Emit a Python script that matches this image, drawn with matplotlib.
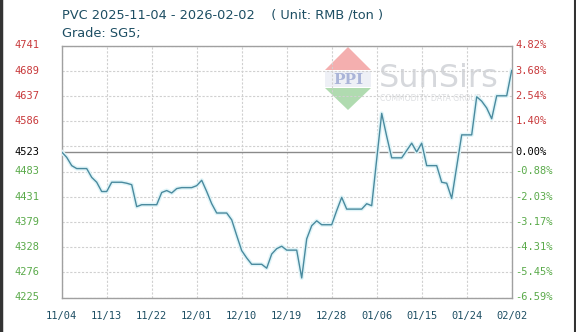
import numpy as np
import pandas as pd
import matplotlib
matplotlib.use('Agg')
import matplotlib.pyplot as plt
from matplotlib.patches import Polygon, Rectangle

# daily prices (weekends carry the last value), 2025-11-04 .. 2026-02-02
start_date = "2025-11-04"
end_date = "2026-02-02"
prices = [
    4523, 4512, 4495, 4489, 4489, 4489, 4471, 4461, 4442, 4442,
    4461, 4461, 4461, 4459, 4456, 4411, 4415, 4415, 4415, 4415,
    4440, 4444, 4439, 4448, 4450, 4450, 4450, 4454, 4465, 4442,
    4417, 4398, 4398, 4398, 4384, 4352, 4321, 4306, 4293, 4293,
    4293, 4285, 4314, 4325, 4330, 4322, 4322, 4322, 4265, 4345,
    4372, 4382, 4374, 4374, 4374, 4403, 4430, 4406, 4406, 4406,
    4406, 4417, 4413, 4508, 4602, 4555, 4511, 4511, 4511, 4526,
    4541, 4523, 4541, 4495, 4495, 4495, 4461, 4459, 4428, 4493,
    4558, 4558, 4558, 4636, 4627, 4613, 4591, 4638, 4638, 4638,
    4690,
]
base_price = 4523
y_min, y_max = 4225, 4741
tick_labels = ["11/04", "11/13", "11/22", "12/01", "12/10", "12/19",
               "12/28", "01/06", "01/15", "01/24", "02/02"]

title = "PVC 2025-11-04 - 2026-02-02    ( Unit: RMB /ton )"
subtitle = "Grade: SG5;"

RED = "#c8393b"
GREEN = "#5aaa4a"
TEAL = "#1d4e63"
LINE = "#4a8a9e"

dates = pd.date_range(start_date, end_date, freq="D")
x = np.arange(len(dates))

fig = plt.figure(figsize=(5.76, 3.32), dpi=100)
fig.patch.set_facecolor("white")

# watermark layer in pixel coords
wm = fig.add_axes([0, 0, 1, 1], zorder=0)
wm.set_xlim(0, 576)
wm.set_ylim(332, 0)
wm.axis("off")
wm.add_patch(Polygon([[348, 47], [325, 70], [371, 70]], closed=True,
                     facecolor="#f3a6a6", edgecolor="none", alpha=0.9))
wm.add_patch(Rectangle((325, 71), 46, 16, facecolor="#eef0f6", edgecolor="none"))
wm.text(348, 79.5, "PPI", ha="center", va="center", fontsize=11,
        color="#aab4d8", family="DejaVu Serif", fontweight="bold")
wm.add_patch(Polygon([[325, 88], [371, 88], [348, 110]], closed=True,
                     facecolor="#a8d8a8", edgecolor="none", alpha=0.9))
wm.text(379, 87, "SunSirs", ha="left", va="baseline", fontsize=23,
        color="#d6d8dc", family="DejaVu Sans")
wm.text(380, 101, "COMMODITY DATA GROUP", ha="left", va="baseline",
        fontsize=5.6, color="#dddfe2", family="DejaVu Sans")
# dark frame edges of the original screenshot
wm.plot([1, 1], [0, 332], color="#333333", lw=2.5)
wm.plot([575, 575], [0, 332], color="#333333", lw=1.5)

ax = fig.add_axes([61.7 / 576, 1 - 297.5 / 332, 450 / 576, 252 / 332], zorder=1)
ax.patch.set_alpha(0)

levels = np.linspace(y_min, y_max, 11)
for lv in levels:
    ax.axhline(lv, color="#d0d0d0", lw=0.8, ls=(0, (2, 1.5)), zorder=1)
for t in range(0, len(x), 9):
    ax.axvline(t, color="#d0d0d0", lw=0.8, ls=(0, (2, 1.5)), zorder=1)
ax.axhline(base_price, color="#8a8a8a", lw=1.0, zorder=2)

ax.plot(x, prices, color="#dff4f8", lw=3.0, zorder=3, solid_joinstyle="round")
ax.plot(x, prices, color=LINE, lw=1.0, zorder=4)

ax.set_xlim(0, len(x) - 1)
ax.set_ylim(y_min, y_max)
ax.set_xticks(range(0, len(x), 9))
ax.set_xticklabels(tick_labels, family="DejaVu Sans Mono", fontsize=7.5, color=TEAL)
ax.tick_params(axis="x", length=0, pad=10)
ax.set_yticks([])
for s in ax.spines.values():
    s.set_color("#a0a0a0")
    s.set_linewidth(1.0)

# left price labels and right percent labels
label_levels = [lv for lv in levels if abs(lv - base_price) > 20] + [base_price]
for lv in label_levels:
    if abs(lv - base_price) < 1e-6:
        c = "black"
    elif lv > base_price:
        c = RED
    else:
        c = GREEN
    ax.text(-0.077, lv, f"{int(lv)}", transform=ax.get_yaxis_transform(),
            ha="center", va="center", fontsize=7.5, color=c, family="DejaVu Sans Mono")
    pct = (lv / base_price - 1) * 100
    ax.text(1.008, lv, f"{pct:.2f}%", transform=ax.get_yaxis_transform(),
            ha="left", va="center", fontsize=7.5, color=c, family="DejaVu Sans Mono")

fig.text(62 / 576, 1 - 15 / 332, title, ha="left", va="center",
         fontsize=9.3, color=TEAL, family="DejaVu Sans")
fig.text(62 / 576, 1 - 34 / 332, subtitle, ha="left", va="center",
         fontsize=9.3, color=TEAL, family="DejaVu Sans")

fig.savefig("out.png", dpi=100)
